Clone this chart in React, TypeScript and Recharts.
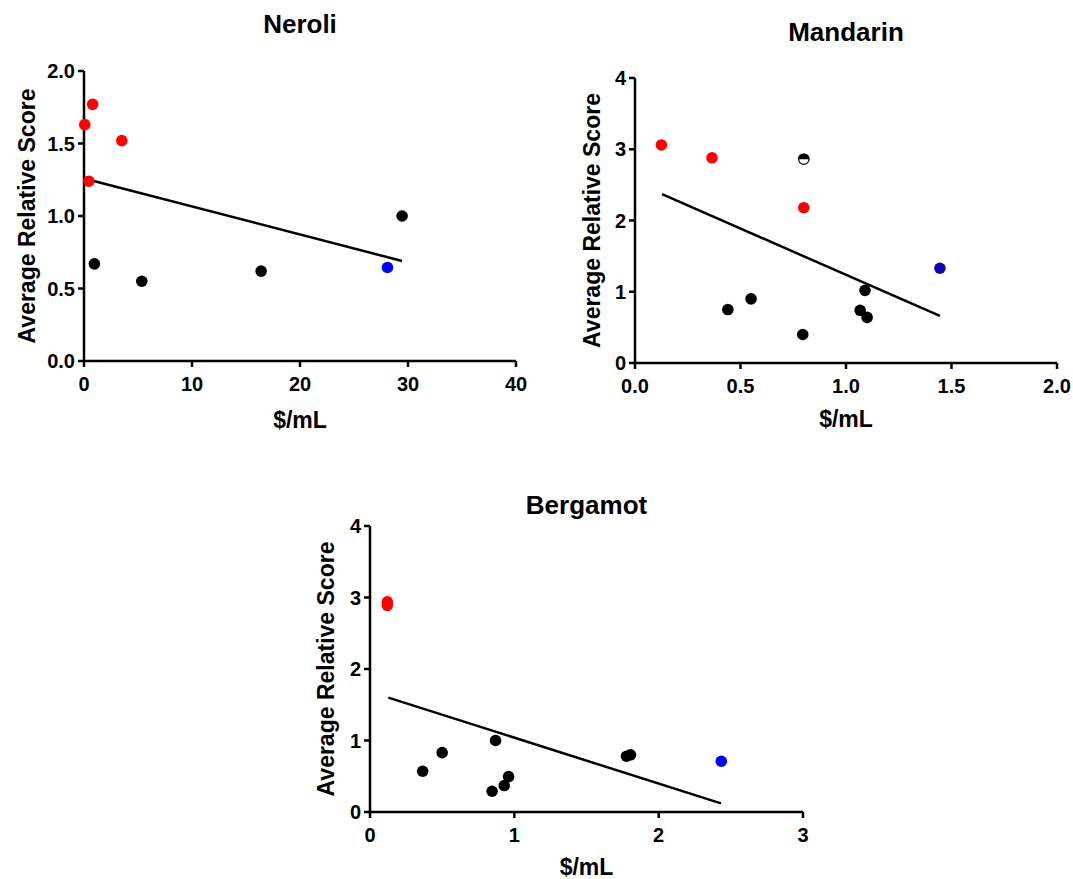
import React from 'react';
import { ScatterChart, Scatter, XAxis, YAxis, ReferenceLine } from 'recharts';

type Pt = { x: number; y: number };

// Neroli
const neroliRed: Pt[] = [
  { x: 0.07, y: 1.63 },
  { x: 0.8, y: 1.77 },
  { x: 3.5, y: 1.52 },
  { x: 0.45, y: 1.24 },
];
const neroliBlack: Pt[] = [
  { x: 0.96, y: 0.67 },
  { x: 5.35, y: 0.55 },
  { x: 16.4, y: 0.62 },
  { x: 29.45, y: 1.0 },
];
const neroliBlue: Pt[] = [{ x: 28.1, y: 0.645 }];
const neroliFit: Pt[] = [
  { x: 0.45, y: 1.25 },
  { x: 29.45, y: 0.69 },
];
const neroliXTicks = [0, 10, 20, 30, 40];
const neroliYTicks = [0, 0.5, 1, 1.5, 2];

// Mandarin
const mandarinRed: Pt[] = [
  { x: 0.125, y: 3.06 },
  { x: 0.365, y: 2.88 },
  { x: 0.8, y: 2.18 },
];
const mandarinHalf: Pt[] = [{ x: 0.8, y: 2.86 }];
const mandarinBlack: Pt[] = [
  { x: 0.44, y: 0.75 },
  { x: 0.55, y: 0.9 },
  { x: 0.795, y: 0.4 },
  { x: 1.09, y: 1.02 },
  { x: 1.067, y: 0.74 },
  { x: 1.1, y: 0.64 },
];
const mandarinBlue: Pt[] = [{ x: 1.445, y: 1.33 }];
const mandarinFit: Pt[] = [
  { x: 0.128, y: 2.37 },
  { x: 1.445, y: 0.66 },
];
const mandarinXTicks = [0, 0.5, 1, 1.5, 2];
const mandarinYTicks = [0, 1, 2, 3, 4];

// Bergamot
const bergamotRed: Pt[] = [
  { x: 0.12, y: 2.94 },
  { x: 0.12, y: 2.89 },
];
const bergamotBlack: Pt[] = [
  { x: 0.365, y: 0.57 },
  { x: 0.5, y: 0.83 },
  { x: 0.87, y: 1.0 },
  { x: 0.846, y: 0.29 },
  { x: 0.93, y: 0.37 },
  { x: 0.96, y: 0.495 },
  { x: 1.777, y: 0.78 },
  { x: 1.805, y: 0.8 },
];
const bergamotBlue: Pt[] = [{ x: 2.434, y: 0.71 }];
const bergamotFit: Pt[] = [
  { x: 0.127, y: 1.6 },
  { x: 2.432, y: 0.12 },
];
const bergamotXTicks = [0, 1, 2, 3];
const bergamotYTicks = [0, 1, 2, 3, 4];

const FONT = '"Liberation Sans", Arial, Helvetica, sans-serif';
const R = 5.8;

const dot = (color: string) => (p: any) => <circle cx={p.cx} cy={p.cy} r={R} fill={color} />;

const halfDot = (p: any) => (
  <g>
    <circle cx={p.cx} cy={p.cy} r={R - 0.6} fill="#fff" stroke="#000" strokeWidth={1.2} />
    <path d={`M ${p.cx - R} ${p.cy} A ${R} ${R} 0 0 1 ${p.cx + R} ${p.cy} Z`} fill="#000" />
  </g>
);

type Group = { data: Pt[]; shape: any };

type PanelProps = {
  title: string;
  left: number;
  top: number;
  w: number;
  h: number;
  titleTop: number;
  xTicks: number[];
  yTicks: number[];
  xFmt: (v: number) => string;
  yFmt: (v: number) => string;
  groups: Group[];
  fit: Pt[];
  yLabelOffset: number;
  xLabelOffset: number;
};

function Panel(props: PanelProps) {
  const { title, left, top, w, h, titleTop, xTicks, yTicks, xFmt, yFmt, groups, fit, yLabelOffset, xLabelOffset } = props;
  const AXW = 80;
  const TOP = 15;
  const RIGHT = 16;
  const XH = 72;
  const axisLine = { stroke: '#000', strokeWidth: 2.5 };
  const tick = { fill: '#000', fontSize: 20, fontWeight: 'bold', fontFamily: FONT };
  const labelStyle = { fontSize: 23, fontWeight: 'bold', fill: '#000', fontFamily: FONT };
  return (
    <>
      <div
        style={{
          position: 'absolute',
          left: left + w / 2 - 150,
          top: titleTop,
          width: 300,
          textAlign: 'center',
          fontFamily: FONT,
          fontWeight: 'bold',
          fontSize: 26,
          lineHeight: '26px',
          color: '#000',
        }}
      >
        {title}
      </div>
      <div style={{ position: 'absolute', left: left - AXW, top: top - TOP }}>
        <ScatterChart
          width={AXW + w + RIGHT}
          height={TOP + h + XH}
          margin={{ top: TOP, right: RIGHT, bottom: 0, left: 0 }}
        >
          <XAxis
            type="number"
            dataKey="x"
            domain={[xTicks[0], xTicks[xTicks.length - 1]]}
            ticks={xTicks}
            tickFormatter={xFmt}
            height={XH}
            axisLine={axisLine}
            tickLine={axisLine}
            tickSize={6}
            tickMargin={10}
            tick={tick}
            interval={0}
            label={{ value: '$/mL', position: 'insideBottom', offset: xLabelOffset, style: labelStyle }}
          />
          <YAxis
            type="number"
            dataKey="y"
            domain={[yTicks[0], yTicks[yTicks.length - 1]]}
            ticks={yTicks}
            tickFormatter={yFmt}
            width={AXW}
            axisLine={axisLine}
            tickLine={axisLine}
            tickSize={6}
            tickMargin={3}
            tick={tick}
            interval={0}
            label={{
              value: 'Average Relative Score',
              angle: -90,
              position: 'insideLeft',
              offset: yLabelOffset,
              style: { ...labelStyle, textAnchor: 'middle' },
            }}
          />
          <ReferenceLine
            segment={[
              { x: fit[0].x, y: fit[0].y },
              { x: fit[1].x, y: fit[1].y },
            ]}
            stroke="#000"
            strokeWidth={2.5}
          />
          {groups.map((g, i) => (
            <Scatter key={i} data={g.data} shape={g.shape} isAnimationActive={false} />
          ))}
        </ScatterChart>
      </div>
    </>
  );
}

const f1 = (v: number) => v.toFixed(1);
const f0 = (v: number) => String(v);

export default function App() {
  return (
    <div style={{ position: 'absolute', left: 0, top: 0, width: 1073, height: 879, overflow: 'hidden', background: '#fff' }}>
      <style>{`.recharts-surface { overflow: visible; }`}</style>
      <Panel
        title="Neroli"
        left={84}
        top={71}
        w={432}
        h={290}
        titleTop={11}
        xTicks={neroliXTicks}
        yTicks={neroliYTicks}
        xFmt={f0}
        yFmt={f1}
        groups={[
          { data: neroliBlack, shape: dot('#000') },
          { data: neroliBlue, shape: dot('#0000FF') },
          { data: neroliRed, shape: dot('#FF0000') },
        ]}
        fit={neroliFit}
        yLabelOffset={23}
        xLabelOffset={5}
      />
      <Panel
        title="Mandarin"
        left={635}
        top={78}
        w={422}
        h={285}
        titleTop={19}
        xTicks={mandarinXTicks}
        yTicks={mandarinYTicks}
        xFmt={f1}
        yFmt={f0}
        groups={[
          { data: mandarinBlack, shape: dot('#000') },
          { data: mandarinHalf, shape: halfDot },
          { data: mandarinBlue, shape: dot('#0A0AB4') },
          { data: mandarinRed, shape: dot('#FF0000') },
        ]}
        fit={mandarinFit}
        yLabelOffset={37}
        xLabelOffset={8}
      />
      <Panel
        title="Bergamot"
        left={370}
        top={526}
        w={433}
        h={286}
        titleTop={492}
        xTicks={bergamotXTicks}
        yTicks={bergamotYTicks}
        xFmt={f0}
        yFmt={f0}
        groups={[
          { data: bergamotBlack, shape: dot('#000') },
          { data: bergamotBlue, shape: dot('#0000FF') },
          { data: bergamotRed, shape: dot('#FF0000') },
        ]}
        fit={bergamotFit}
        yLabelOffset={36}
        xLabelOffset={9}
      />
    </div>
  );
}
